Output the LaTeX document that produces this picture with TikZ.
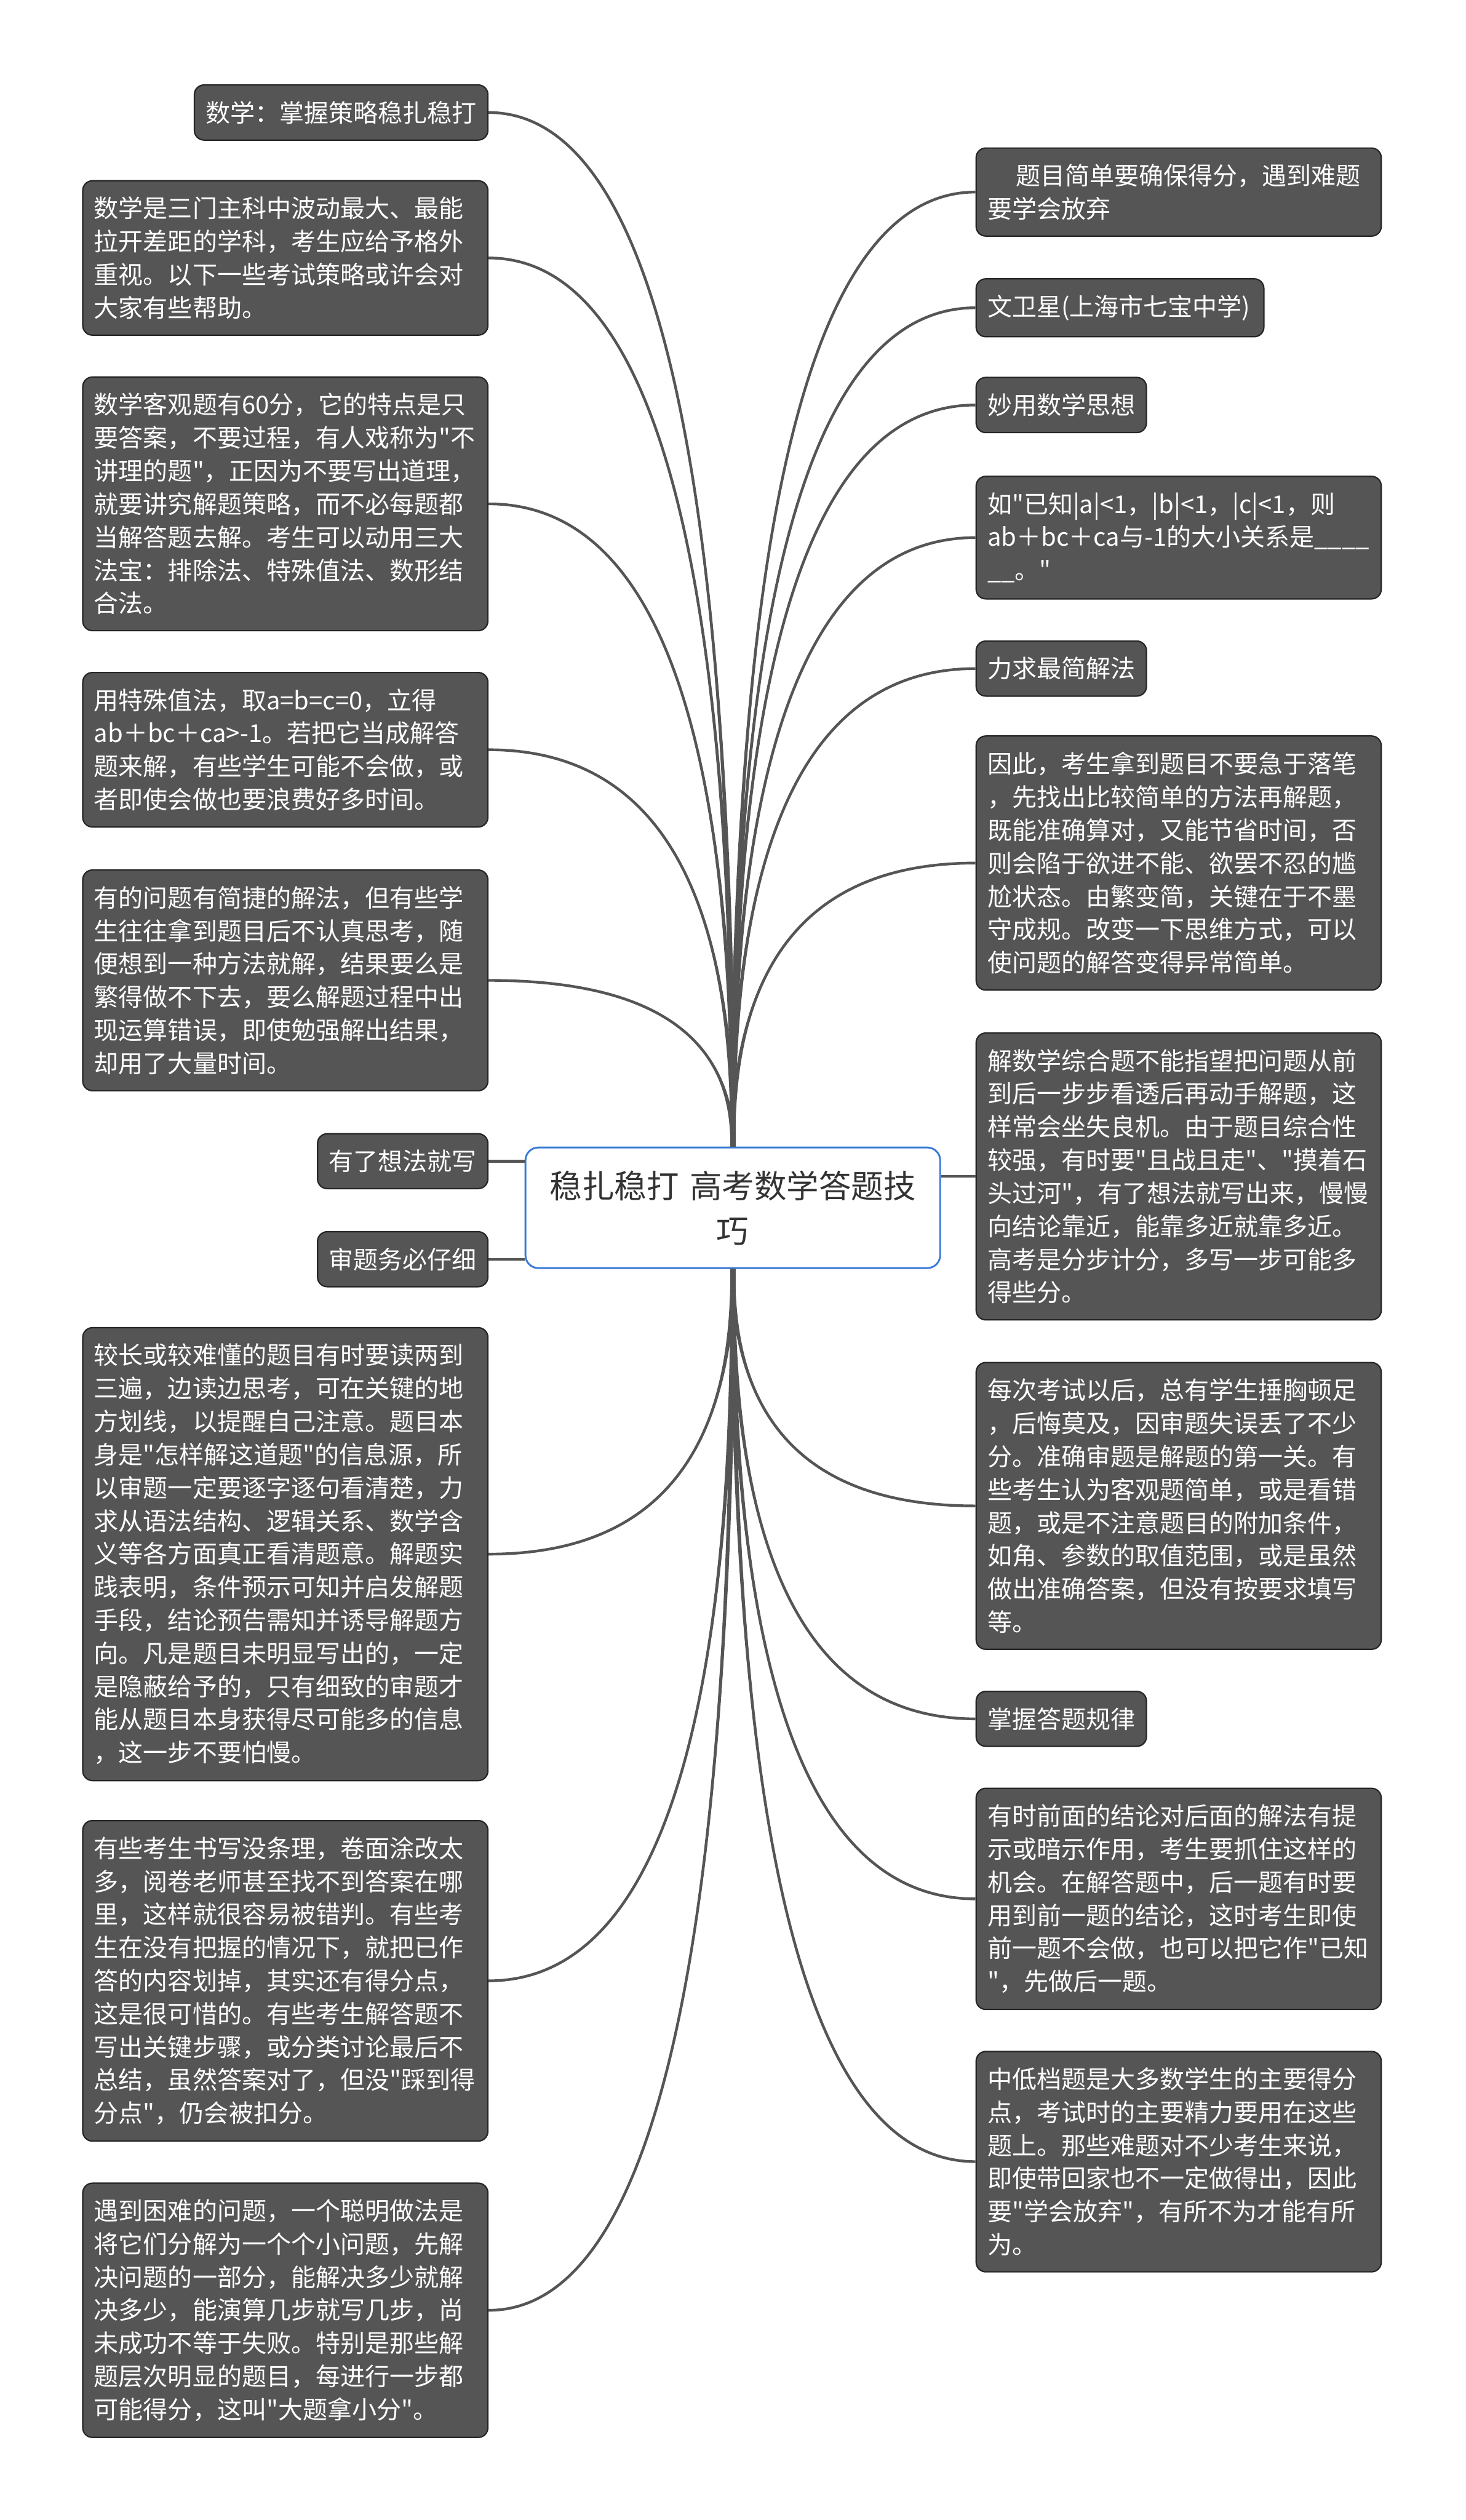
\documentclass[tikz,border=0pt]{standalone}
\usepackage{fontspec}
\setmainfont{Noto Sans CJK SC}
\newfontfamily\cjk{Noto Sans CJK SC}
\usetikzlibrary{calc}

\definecolor{leafgray}{HTML}{555555}
\definecolor{leafedge}{HTML}{262626}
\definecolor{linkgray}{HTML}{555555}
\definecolor{rootblue}{HTML}{3A7BD5}
\definecolor{roottext}{HTML}{333333}

\newcommand{\leaffont}{\cjk\fontsize{10.9pt}{14.65pt}\selectfont}
\newcommand{\rootfont}{\cjk\fontsize{14.3pt}{19.9pt}\selectfont}

% tapered branch from #1 (on the root) to #2 (on a leaf)
\newcommand{\twig}[2]{%
  \coordinate (tw-l) at ($(#1)+(-1.6,0)$);
  \coordinate (tw-r) at ($(#1)+(1.6,0)$);
  \coordinate (tw-c) at (#1 |- #2);
  \fill[twig] (tw-l) .. controls ($(tw-l)!.667!(tw-c)$) and ($(#2)!.667!(tw-c)$) .. (#2)
    .. controls ($(#2)!.667!(tw-c)$) and ($(tw-r)!.667!(tw-c)$) .. (tw-r) -- cycle;
  \draw[twig] (#1) .. controls ($(#1)!.667!(tw-c)$) and ($(#2)!.667!(tw-c)$) .. (#2);
}

\begin{document}
\begin{tikzpicture}[x=0.025cm,y=-0.025cm,
    leaf/.style={draw=leafedge,fill=leafgray,text=white,rounded corners=0.15cm,
        line width=0.6pt,inner xsep=0.175cm,inner ysep=0.25cm,font=\leaffont},
    para/.style={leaf,text width=5.95cm,align=left},
    root/.style={draw=rootblue,fill=white,text=roottext,rounded corners=0.2cm,
        line width=0.8pt,text width=6cm,align=center,inner xsep=0.225cm,
        minimum height=1.875cm,font=\rootfont},
    twig/.style={linkgray,line width=1.2pt}]
\fill[white] (0,0) rectangle (912,1568);
\useasboundingbox (0,0) rectangle (912,1568);

\node[root] (root) at (456,751.5) {稳扎稳打 高考数学答题技\\巧};

% left side
\node[leaf,anchor=east] (l1) at (304,70) {数学：掌握策略稳扎稳打};
\node[para,anchor=east] (l2) at (304,160.5) {数学是三门主科中波动最大、最能\\拉开差距的学科，考生应给予格外\\重视。以下一些考试策略或许会对\\大家有些帮助。};
\node[para,anchor=east] (l3) at (304,313.5) {数学客观题有60分，它的特点是只\\要答案，不要过程，有人戏称为"不\\讲理的题"，正因为不要写出道理，\\就要讲究解题策略，而不必每题都\\当解答题去解。考生可以动用三大\\法宝：排除法、特殊值法、数形结\\合法。};
\node[para,anchor=east] (l4) at (304,466.5) {用特殊值法，取a=b=c=0，立得\\ab＋bc＋ca>-1。若把它当成解答\\题来解，有些学生可能不会做，或\\者即使会做也要浪费好多时间。};
\node[para,anchor=east] (l5) at (304,610) {有的问题有简捷的解法，但有些学\\生往往拿到题目后不认真思考，随\\便想到一种方法就解，结果要么是\\繁得做不下去，要么解题过程中出\\现运算错误，即使勉强解出结果，\\却用了大量时间。};
\node[leaf,anchor=east] (l6) at (304,722.5) {有了想法就写};
\node[leaf,anchor=east] (l7) at (304,783.5) {审题务必仔细};
\node[para,anchor=east] (l8) at (304,967) {较长或较难懂的题目有时要读两到\\三遍，边读边思考，可在关键的地\\方划线，以提醒自己注意。题目本\\身是"怎样解这道题"的信息源，所\\以审题一定要逐字逐句看清楚，力\\求从语法结构、逻辑关系、数学含\\义等各方面真正看清题意。解题实\\践表明，条件预示可知并启发解题\\手段，结论预告需知并诱导解题方\\向。凡是题目未明显写出的，一定\\是隐蔽给予的，只有细致的审题才\\能从题目本身获得尽可能多的信息\\，这一步不要怕慢。};
\node[para,anchor=east] (l9) at (304,1232.5) {有些考生书写没条理，卷面涂改太\\多，阅卷老师甚至找不到答案在哪\\里，这样就很容易被错判。有些考\\生在没有把握的情况下，就把已作\\答的内容划掉，其实还有得分点，\\这是很可惜的。有些考生解答题不\\写出关键步骤，或分类讨论最后不\\总结，虽然答案对了，但没"踩到得\\分点"，仍会被扣分。};
\node[para,anchor=east] (l10) at (304,1437.5) {遇到困难的问题，一个聪明做法是\\将它们分解为一个个小问题，先解\\决问题的一部分，能解决多少就解\\决多少，能演算几步就写几步，尚\\未成功不等于失败。特别是那些解\\题层次明显的题目，每进行一步都\\可能得分，这叫"大题拿小分"。};

% right side
\node[para,anchor=west] (r1) at (607,119.5) {\hspace*{1.15em}题目简单要确保得分，遇到难题\\要学会放弃};
\node[leaf,anchor=west,text width=4.125cm,align=left] (r2) at (607,191.5) {文卫星(上海市七宝中学)};
\node[leaf,anchor=west] (r3) at (607,252) {妙用数学思想};
\node[para,anchor=west] (r4) at (607,334.5) {如"已知|a|<1，|b|<1，|c|<1，则\\ab＋bc＋ca与-1的大小关系是\_\_\_\_\\\_\_。"};
\node[leaf,anchor=west] (r5) at (607,416) {力求最简解法};
\node[para,anchor=west] (r6) at (607,537) {因此，考生拿到题目不要急于落笔\\，先找出比较简单的方法再解题，\\既能准确算对，又能节省时间，否\\则会陷于欲进不能、欲罢不忍的尴\\尬状态。由繁变简，关键在于不墨\\守成规。改变一下思维方式，可以\\使问题的解答变得异常简单。};
\node[para,anchor=west] (r7) at (607,732) {解数学综合题不能指望把问题从前\\到后一步步看透后再动手解题，这\\样常会坐失良机。由于题目综合性\\较强，有时要"且战且走"、"摸着石\\头过河"，有了想法就写出来，慢慢\\向结论靠近，能靠多近就靠多近。\\高考是分步计分，多写一步可能多\\得些分。};
\node[para,anchor=west] (r8) at (607,937) {每次考试以后，总有学生捶胸顿足\\，后悔莫及，因审题失误丢了不少\\分。准确审题是解题的第一关。有\\些考生认为客观题简单，或是看错\\题，或是不注意题目的附加条件，\\如角、参数的取值范围，或是虽然\\做出准确答案，但没有按要求填写\\等。};
\node[leaf,anchor=west] (r9) at (607,1069.5) {掌握答题规律};
\node[para,anchor=west] (r10) at (607,1181.5) {有时前面的结论对后面的解法有提\\示或暗示作用，考生要抓住这样的\\机会。在解答题中，后一题有时要\\用到前一题的结论，这时考生即使\\前一题不会做，也可以把它作"已知\\"，先做后一题。};
\node[para,anchor=west] (r11) at (607,1345) {中低档题是大多数学生的主要得分\\点，考试时的主要精力要用在这些\\题上。那些难题对不少考生来说，\\即使带回家也不一定做得出，因此\\要"学会放弃"，有所不为才能有所\\为。};

% branches
\foreach \n in {l1,l2,l3,l4,l5} \twig{root.north}{\n.east};
\foreach \n in {r1,r2,r3,r4,r5,r6} \twig{root.north}{\n.west};
\foreach \n in {l8,l9,l10} \twig{root.south}{\n.east};
\foreach \n in {r8,r9,r10,r11} \twig{root.south}{\n.west};
\draw[twig] (l6.east) -- (l6.east -| root.west);
\draw[twig] (l7.east) -- (l7.east -| root.west);
\draw[twig] (r7.west) -- (r7.west -| root.east);
\end{tikzpicture}
\end{document}
